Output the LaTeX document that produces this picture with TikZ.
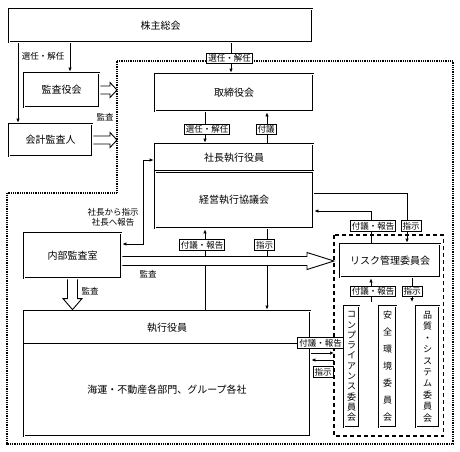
\documentclass[tikz,border=0pt]{standalone}
\usepackage{fontspec}
\newfontfamily\jpf{Noto Sans CJK JP}
\usetikzlibrary{calc,arrows.meta}
\tikzset{
  dbox/.style={draw, double, line width=1pt, double distance=0.8pt, inner sep=0pt, outer sep=1.4pt, font=\jpf\fontsize{10pt}{12pt}\selectfont, align=center},
  vbox/.style={dbox, font=\jpf\fontsize{9pt}{#1}\selectfont},
  lbl/.style={draw, line width=1pt, fill=white, inner sep=1.5pt, font=\jpf\fontsize{8.5pt}{9pt}\selectfont},
  txt/.style={inner sep=0pt, font=\jpf\fontsize{8.5pt}{10pt}\selectfont, align=center},
  conn/.style={line width=0.8pt},
  arr/.style={conn, -{Latex[length=4pt,width=3.5pt]}},
  darr/.style={conn, {Latex[length=4pt,width=3.5pt]}-{Latex[length=4pt,width=3.5pt]}},
  hollow/.style={draw, line width=0.9pt, fill=white, line join=miter},
  dotline/.style={line width=1.1pt, dash pattern=on 1pt off 0.8pt},
  dashline/.style={line width=1.2pt, dash pattern=on 4pt off 3pt},
}
\newcommand\hollowR[5]{\path[hollow] ($#1+(0,-#3)$) -- ($#2+(-#5,-#3)$) -- ($#2+(-#5,-#4)$) -- #2 -- ($#2+(-#5,#4)$) -- ($#2+(-#5,#3)$) -- ($#1+(0,#3)$);}
\newcommand\hollowD[5]{\path[hollow] ($#1+(-#3,0)$) -- ($#2+(-#3,-#5)$) -- ($#2+(-#4,-#5)$) -- #2 -- ($#2+(#4,-#5)$) -- ($#2+(#3,-#5)$) -- ($#1+(#3,0)$);}
\begin{document}
\begin{tikzpicture}[x=1pt,y=-1pt]
\useasboundingbox (0,0) rectangle (460,451);
% helper coordinates
\coordinate (xa) at (18,0);
\coordinate (xb) at (70,0);
\coordinate (xc) at (231,0);
\coordinate (xd) at (205,0);
\coordinate (xe) at (267,0);
\coordinate (xf) at (143,0);
\coordinate (xg) at (371,0);
\coordinate (xh) at (407,0);
\coordinate (xi) at (412,0);
\coordinate (dl) at (117,0);
\coordinate (dg) at (334,0);
\coordinate (ya) at (0,160);
\coordinate (yb) at (0,244);
\coordinate (yc) at (0,193);
\coordinate (yd) at (0,211);
\coordinate (ye) at (0,302);
\coordinate (yf) at (0,353);
\coordinate (yg) at (0,360);
\coordinate (yh) at (0,261);
% regions
\draw[dotline] (117,61) -- (453,61) -- (453,444) -- (7,444) -- (7,193) -- (117,193) -- cycle;
\draw[dashline] (334,235) rectangle (443.5,436);
% boxes
\node[dbox, minimum width=303pt, minimum height=33pt] (kabu) at (160.5,25.5) {株主総会};
\node[dbox, minimum width=75pt, minimum height=34pt] (kansayaku) at (61.5,90) {監査役会};
\node[dbox, minimum width=83pt, minimum height=32pt] (kaikei) at (50.5,140) {会計監査人};
\node[dbox, minimum width=158pt, minimum height=37pt] (torishimari) at (234,92.5) {取締役会};
\node[dbox, minimum width=158pt, minimum height=27pt] (shacho) at (234,157.5) {社長執行役員};
\node[dbox, minimum width=158pt, minimum height=56.5pt] (keiei) at (234,199.75) {経営執行協議会};
\node[dbox, minimum width=97pt, minimum height=45pt] (naibu) at (72.5,255.5) {内部監査室};
\node[dbox, minimum width=286pt, minimum height=33pt] (shikko) at (167,327.5) {執行役員};
\node[dbox, minimum width=286pt, minimum height=92pt] (kaiun) at (167,390) {海運・不動産各部門、グループ各社};
\node[dbox, minimum width=100pt, minimum height=33pt] (risk) at (390,260.5) {リスク管理委員会};
\node[vbox=10.3pt, minimum width=15pt, minimum height=121pt] (comp) at (351.5,366.5) {コ\\ン\\プ\\ラ\\イ\\ア\\ン\\ス\\委\\員\\会};
\node[vbox=17pt, minimum width=17pt, minimum height=121pt] (anzen) at (387.5,366.5) {安\\全\\環\\境\\委\\員\\会};
\node[vbox=11.4pt, minimum width=23pt, minimum height=121pt] (hinshitsu) at (427.5,366.5) {品\\質\\・\\シ\\ス\\テ\\ム\\委\\員\\会};
% connectors
\draw[arr] (kabu.south -| xa) -- (kaikei.north -| xa);
\draw[arr] (kabu.south -| xb) -- (kansayaku.north -| xb);
\draw[arr] (kabu.south -| xc) -- (torishimari.north -| xc);
\draw[arr] (torishimari.south -| xd) -- (shacho.north -| xd);
\draw[arr] (shacho.north -| xe) -- (torishimari.south -| xe);
\draw[darr] (naibu.east |- yb) -- (xf |- yb) -- (xf |- ya) -- (shacho.west |- ya);
\draw[arr] (shikko.north -| xd) -- (keiei.south -| xd);
\draw[arr] (keiei.south -| xe) -- (shikko.north -| xe);
\draw[arr] (keiei.east |- yc) -- (xh |- yc) -- (risk.north -| xh);
\draw[arr] (risk.north -| xg) -- (xg |- yd) -- (keiei.east |- yd);
\draw[arr] (xg |- ye) -- (risk.south -| xg);
\draw[arr] (risk.south -| xi) -- (xi |- ye);
\draw[arr] (kaiun.east |- yf) -- (dg |- yf);
\draw[arr] (dg |- yg) -- (kaiun.east |- yg);
% hollow arrows
\hollowR{(kansayaku.east)}{(kansayaku.east -| dl)}{4}{7.5}{7}
\hollowR{(kaikei.east)}{(kaikei.east -| dl)}{4}{7.5}{7}
\hollowR{(naibu.east |- yh)}{(dg |- yh)}{4.5}{8.5}{27}
\hollowD{(naibu.south)}{(shikko.north -| naibu.south)}{5}{9.5}{11}
% labels
\node[txt] (t1) at (43,56) {選任・解任};
\node[txt] (t2) at (105,117) {監査};
\node[txt] (t3) at (113,217) {社長から指示\\社長へ報告};
\node[txt] (t4) at (148,274) {監査};
\node[txt] (t5) at (90,291) {監査};
\node[lbl] (l1) at (229.5,58.5) {選任・解任};
\node[lbl] (l2) at (207,129.5) {選任・解任};
\node[lbl] (l3) at (266,129.5) {付議};
\node[lbl] (l4) at (202,245) {付議・報告};
\node[lbl] (l5) at (264.5,245) {指示};
\node[lbl] (l6) at (373,226) {付議・報告};
\node[lbl] (l7) at (411,226) {指示};
\node[lbl] (l8) at (373,291.5) {付議・報告};
\node[lbl] (l9) at (412,291.5) {指示};
\node[lbl] (l10) at (320.5,343) {付議・報告};
\node[lbl] (l11) at (323,372) {指示};
\end{tikzpicture}
\end{document}
